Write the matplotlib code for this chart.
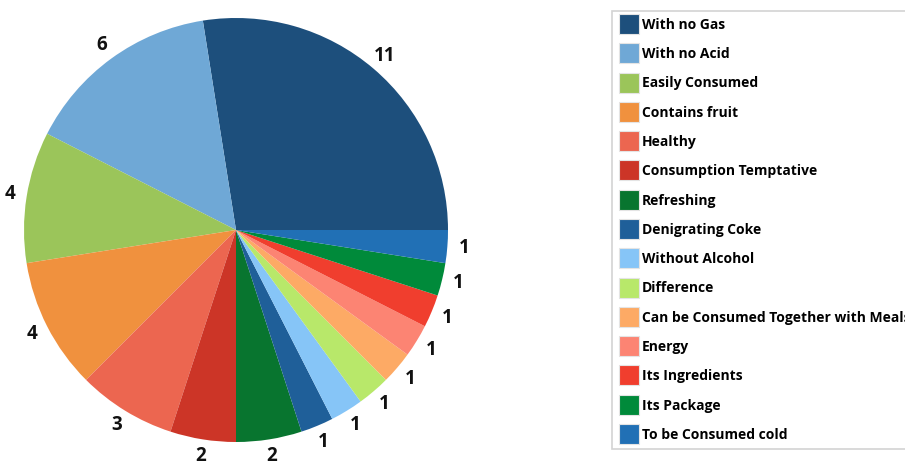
import matplotlib
matplotlib.use('Agg')

import matplotlib.pyplot as plt
from matplotlib.lines import Line2D

# Attribute mentions, drawn counter-clockwise from 3 o'clock
categories = [
    "With no Gas", "With no Acid", "Easily Consumed", "Contains fruit",
    "Healthy", "Consumption Temptative", "Refreshing", "Denigrating Coke",
    "Without Alcohol", "Difference", "Can be Consumed Together with Meals",
    "Energy", "Its Ingredients", "Its Package", "To be Consumed cold",
]
counts = [11, 6, 4, 4, 3, 2, 2, 1, 1, 1, 1, 1, 1, 1, 1]
colors = [
    "#1d4f7c", "#6fa8d6", "#9bc55a", "#f0913e", "#ec6650", "#cc3527",
    "#08752f", "#1f5f99", "#86c5f7", "#b8e86a", "#fdaa65", "#fc8473",
    "#f03e2e", "#008a3a", "#2170b5",
]

plt.rcParams['font.family'] = ['Open Sans', 'DejaVu Sans']

W, H = 905, 471
fig = plt.figure(figsize=(W / 100, H / 100), dpi=100)

# pie centre and radius in pixels
cx, cy, R = 236, 241, 212
lim = 1.15
side = 2 * lim * R
ax = fig.add_axes([(cx - side / 2) / W, (cy - side / 2) / H, side / W, side / H])

wedges, texts = ax.pie(counts, colors=colors, startangle=0, counterclock=True,
                       labels=[str(c) for c in counts], labeldistance=1.08,
                       wedgeprops=dict(linewidth=0))
for t in texts:
    t.set_ha('center')
    t.set_va('center')
    t.set_fontsize(13.5)
    t.set_fontweight('bold')
    t.set_color('#111111')

ax.set_xlim(-lim, lim)
ax.set_ylim(-lim, lim)
ax.set_aspect('equal')
ax.axis('off')

# square swatches for the legend; the long label runs off the right edge
handles = [Line2D([], [], linestyle='none', marker='s', markersize=14.2,
                  markerfacecolor=c, markeredgecolor='#e4e4e4', markeredgewidth=0.8)
           for c in colors]
leg = fig.legend(handles, categories, loc='upper left',
                 bbox_to_anchor=(612 / W, (H - 11) / H),
                 frameon=True, fancybox=False, borderaxespad=0,
                 prop=dict(family=['Open Sans', 'DejaVu Sans'], weight='bold', size=10),
                 handlelength=1.45, handletextpad=0.2,
                 labelspacing=1.1, borderpad=0.5)
leg.get_frame().set_edgecolor('#c8c8c8')
leg.get_frame().set_linewidth(1.2)

plt.savefig('out.png', dpi=100)
plt.close()
